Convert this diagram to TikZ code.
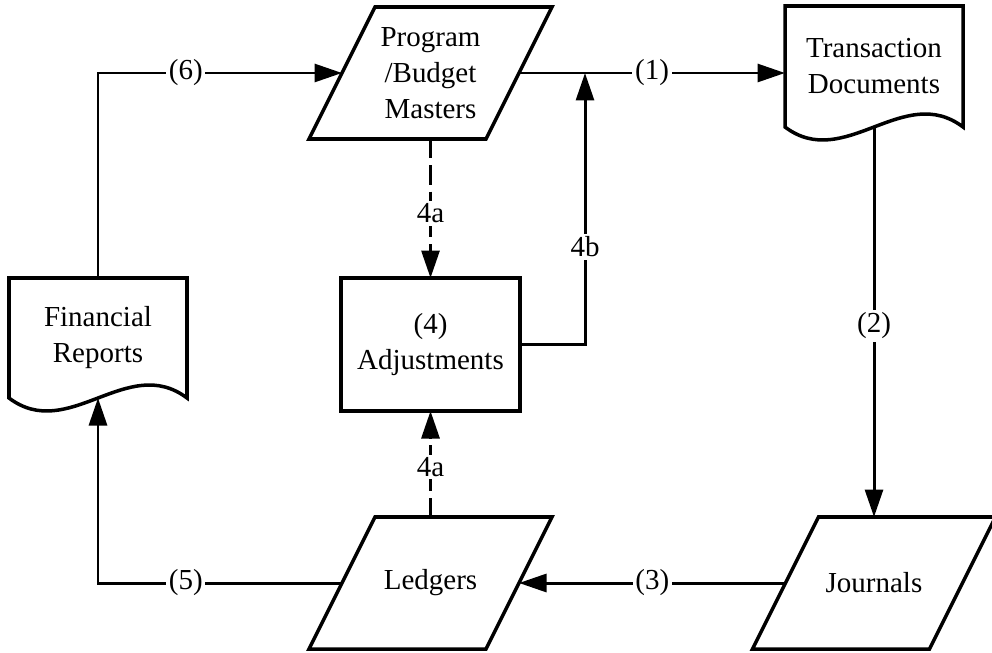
\documentclass[tikz,border=0pt]{standalone}
\usepackage{fontspec}
\setmainfont{Liberation Serif}
\newfontfamily\timesface{Liberation Serif}
\usetikzlibrary{arrows.meta,positioning,calc}

\newcommand{\diagfont}{\timesface\fontsize{16.5}{20.5}\selectfont}
% outline of a slanted input/output box around node #1
\newcommand{\paraoutline}[1]{%
  \draw[outline] ([xshift=-0.66cm]#1.south west) -- ([xshift=0.66cm]#1.north west)
    -- ([xshift=0.66cm]#1.north east) -- ([xshift=-0.66cm]#1.south east) -- cycle;}
% outline of a document box (wavy bottom) around node #1
\newcommand{\docoutline}[1]{%
  \draw[outline] (#1.south west) -- (#1.north west) -- (#1.north east) -- (#1.south east)
    .. controls +(-1.19,0.9) and +(1.19,-0.9) .. (#1.south west) -- cycle;}

\begin{document}
\begin{tikzpicture}[
  box/.style={minimum width=#1, minimum height=2.64cm, outer sep=0pt, inner sep=2pt,
              align=center, font=\diagfont},
  doc/.style={box=3.56cm, minimum height=2.4cm},
  outline/.style={line width=2pt, line join=miter},
  arrow/.style={line width=1.7pt, -{Triangle[length=0.55cm, width=0.36cm]}},
  dasharrow/.style={arrow, dash pattern=on 11pt off 4pt},
  tag/.style={fill=white, font=\diagfont, inner sep=1.5pt}
]
  \useasboundingbox (0,0) rectangle (19.84,13.04);
  \clip (0,0) rectangle (19.84,13.04);

  % Boxes
  \node[box=3.54cm] (prog) at (8.61, 11.58) {Program\\/Budget\\Masters};
  \node[doc, minimum height=2.42cm] (trans) at (17.48, 11.71) {Transaction\\Documents};
  \node[doc] (fin) at (1.96, 6.28) {Financial\\Reports};
  \node[box=3.58cm, minimum height=2.66cm, draw, outline] (adj) at (8.61, 6.15) {(4)\\Adjustments};
  \node[box=3.54cm] (led) at (8.61, 1.38) {Ledgers};
  \node[box=3.54cm] (jour) at (17.48, 1.38) {Journals};

  \paraoutline{prog}
  \paraoutline{led}
  \paraoutline{jour}
  \docoutline{trans}
  \docoutline{fin}

  \coordinate (junc) at (11.7, 11.58);

  % Flows
  \draw[arrow] (prog) -- (prog -| trans.west) node[tag, midway] {(1)};
  \draw[arrow] (trans.south) -- (jour) node[tag, midway, yshift=-0.08cm] {(2)};
  \draw[arrow] (jour) -- (led) node[tag, midway] {(3)};
  \draw[arrow] (led) -| (fin) node[tag, pos=0.32] {(5)};
  \draw[arrow] (fin) |- (prog) node[tag, pos=0.68] {(6)};
  \draw[arrow] (adj) -| (junc) node[tag, pos=0.68] {4b};

  % Adjustment inputs
  \draw[dasharrow] (prog) -- (adj) node[tag, midway, yshift=-0.1cm] {4a};
  \draw[dasharrow] (led) -- (adj) node[tag, midway, yshift=-0.06cm] {4a};
\end{tikzpicture}
\end{document}
